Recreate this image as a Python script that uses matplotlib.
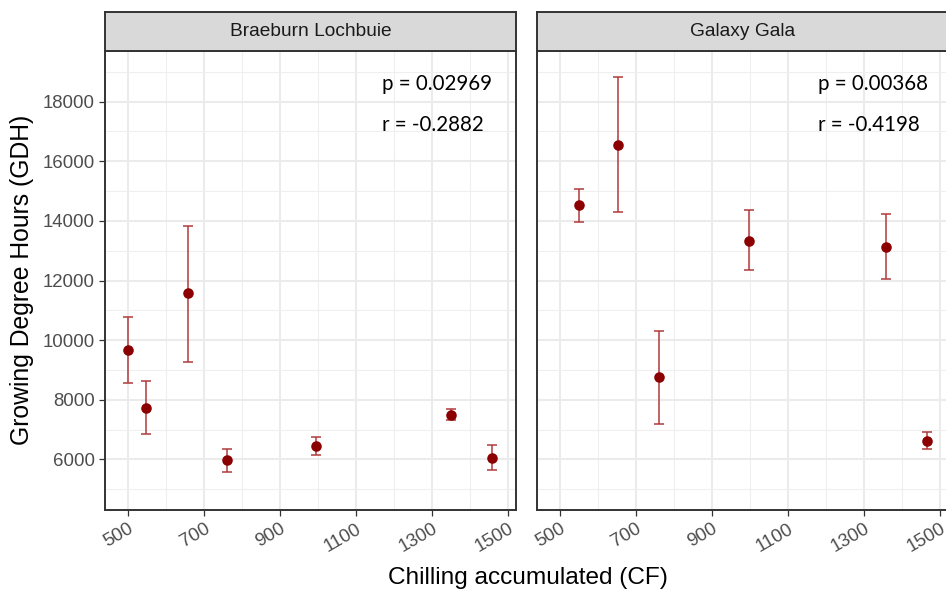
import matplotlib
matplotlib.use("Agg")
import matplotlib.pyplot as plt
from matplotlib.ticker import MultipleLocator

# ---- data ----
panels = ["Braeburn Lochbuie", "Galaxy Gala"]

bl_x = [500, 548, 656, 759, 994, 1350, 1458]
bl_y = [9665, 7732, 11564, 5976, 6456, 7487, 6054]
bl_lo = [8567, 6836, 9272, 5574, 6134, 7315, 5651]
bl_hi = [10760, 8638, 13822, 6335, 6758, 7698, 6470]

gg_x = [549, 653, 761, 998, 1357, 1465]
gg_y = [14517, 16560, 8748, 13342, 13117, 6624]
gg_lo = [13946, 14302, 7195, 12336, 12057, 6335]
gg_hi = [15074, 18829, 10312, 14349, 14225, 6916]

stats = [("p = 0.02969", "r = -0.2882"), ("p = 0.00368", "r = -0.4198")]

x_ticks = [500, 700, 900, 1100, 1300, 1500]
y_ticks = [6000, 8000, 10000, 12000, 14000, 16000, 18000]

series = [(bl_x, bl_y, bl_lo, bl_hi), (gg_x, gg_y, gg_lo, gg_hi)]

W, H = 946, 593
fig = plt.figure(figsize=(W / 100, H / 100), dpi=100)

panel_left = [105, 536.7]
panel_w = 411
panel_top = 51
panel_bot = 510
strip_top = 12

tick_col = "#4D4D4D"
border_col = "#333333"

for i, (name, (xs, ys, lo, hi)) in enumerate(zip(panels, series)):
    l = panel_left[i] / W
    b = 1 - panel_bot / H
    w = panel_w / W
    h = (panel_bot - panel_top) / H
    ax = fig.add_axes([l, b, w, h])
    ax.set_xlim(439, 1520)
    ax.set_ylim(4300, 19700)
    ax.set_facecolor("white")
    ax.set_xticks(x_ticks)
    ax.xaxis.set_minor_locator(MultipleLocator(100))
    ax.set_yticks(y_ticks)
    ax.yaxis.set_minor_locator(MultipleLocator(1000))
    ax.grid(which="major", color="#EBEBEB", linewidth=1.5)
    ax.grid(which="minor", color="#EFEFEF", linewidth=0.8)
    ax.set_axisbelow(True)
    for s in ax.spines.values():
        s.set_color(border_col)
        s.set_linewidth(1.4)
    ax.tick_params(which="major", direction="out", length=4, width=0.9,
                   color=border_col, labelcolor=tick_col, labelsize=13.4)
    ax.tick_params(which="minor", length=0)
    ax.set_xticklabels([str(t) for t in x_ticks], rotation=30, ha="right",
                       va="top", rotation_mode="anchor")
    for lab in ax.get_xticklabels():
        lab.set_fontfamily("Liberation Sans")
    for lab in ax.get_yticklabels():
        lab.set_fontfamily("Liberation Sans")
    if i == 1:
        ax.tick_params(axis="y", labelleft=False, length=0)
    yerr = [[y - a for y, a in zip(ys, lo)], [c - y for y, c in zip(ys, hi)]]
    ax.errorbar(xs, ys, yerr=yerr, fmt="none", ecolor="#B03A3A",
                elinewidth=1.1, capsize=3.5, capthick=1.1, zorder=3)
    ax.plot(xs, ys, "o", color="#8B0000", markersize=7.6, zorder=4,
            markeredgewidth=0)
    tx = 0.674 if i == 0 else 0.684
    ax.text(tx, 0.928, stats[i][0], transform=ax.transAxes,
            fontsize=14.8, family="Lato", va="center", ha="left", color="black")
    ax.text(tx, 0.839, stats[i][1], transform=ax.transAxes,
            fontsize=14.8, family="Lato", va="center", ha="left", color="black")

    # strip
    sax = fig.add_axes([l, 1 - panel_top / H, w, (panel_top - strip_top) / H])
    sax.set_facecolor("#D9D9D9")
    sax.set_xticks([])
    sax.set_yticks([])
    for s in sax.spines.values():
        s.set_color(border_col)
        s.set_linewidth(1.4)
    sax.text(0.5, 0.5, name, transform=sax.transAxes, ha="center", va="center",
             fontsize=13.8, color="#1A1A1A", family="Liberation Sans")

fig.text(22 / W, 1 - 280 / H, "Growing Degree Hours (GDH)", rotation=90,
         ha="center", va="center", fontsize=17.8, family="Liberation Sans")
fig.text(528 / W, 1 - 578 / H, "Chilling accumulated (CF)",
         ha="center", va="center", fontsize=17.6, family="Liberation Sans")

fig.savefig("out.png", dpi=100)
